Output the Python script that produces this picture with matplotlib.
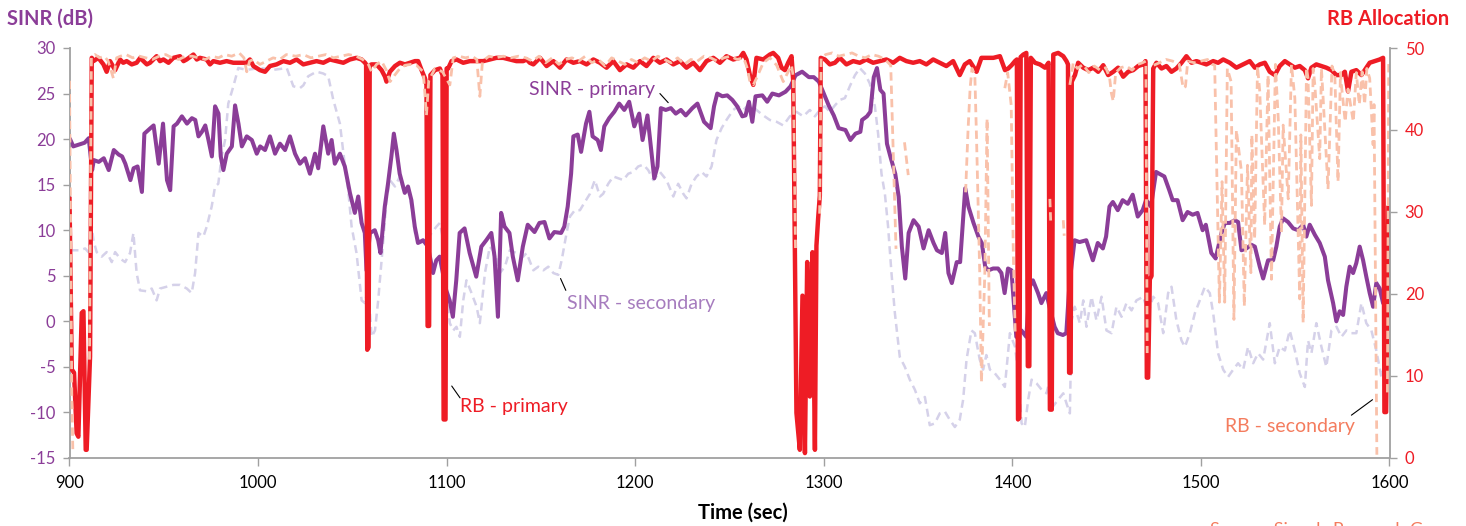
import numpy as np
import matplotlib.pyplot as plt

plt.rcParams['font.family'] = ['Lato', 'DejaVu Sans']
plt.rcParams['axes.unicode_minus'] = False

GAP = (np.nan, np.nan)

# SINR of the primary carrier, (time in sec, dB)
sinr_primary = [
    (900.5, 19.9), (902.0, 19.2), (905.0, 19.4), (908.0, 19.6), (910.2, 20.1),
    (912.0, 16.6), (912.9, 17.7), (915.5, 17.5), (918.2, 17.9), (920.8, 16.6),
    (923.5, 18.8), (926.1, 18.3), (927.9, 18.1), (929.6, 17.3), (932.3, 15.5),
    (934.0, 16.8), (936.1, 17.0), (938.4, 14.2), (939.7, 20.6), (942.9, 21.2),
    (944.6, 21.5), (947.3, 17.3), (949.6, 21.7), (951.7, 15.5), (953.4, 14.4),
    (955.2, 21.4), (957.0, 21.7), (959.6, 22.5), (962.3, 21.7), (964.9, 22.3),
    (966.7, 22.1), (968.4, 20.3), (970.2, 20.8), (972.0, 21.5), (973.7, 19.9),
    (975.5, 18.1), (977.2, 23.6), (979.0, 22.8), (980.2, 18.1), (981.6, 16.6),
    (983.4, 18.4), (986.1, 19.2), (987.8, 23.7), (989.6, 21.7), (991.4, 19.2),
    (994.0, 20.3), (996.7, 19.9), (999.3, 18.4), (1001.1, 19.2), (1003.7, 18.8),
    (1006.3, 20.3), (1009.0, 18.4), (1011.6, 19.5), (1014.3, 18.8), (1016.9, 20.3),
    (1019.6, 18.4), (1022.2, 17.3), (1024.9, 17.9), (1027.5, 16.2), (1030.2, 18.4),
    (1031.9, 16.8), (1034.6, 21.4), (1037.2, 18.4), (1039.0, 19.9), (1040.7, 17.3),
    (1043.4, 18.4), (1046.0, 17.0), (1048.7, 14.1), (1051.3, 11.9), (1053.1, 13.7),
    (1054.9, 10.8), (1056.6, 9.7), (1057.5, 5.6), (1059.3, 9.7), (1061.9, 10.0),
    (1063.7, 8.9), (1064.9, 7.5), (1067.2, 12.6), (1068.9, 15.1), (1070.7, 18.1),
    (1072.0, 20.6), (1073.4, 18.8), (1075.1, 16.2), (1077.8, 14.1), (1079.5, 14.8),
    (1081.3, 13.3), (1083.1, 10.4), (1084.8, 8.6), (1087.5, 8.9), (1090.1, 8.2),
    (1092.8, 5.3), (1094.5, 6.7), (1096.3, 7.1), (1098.0, 5.3), (1099.8, 3.4),
    (1101.6, 2.3), (1103.3, 0.5), (1105.1, 4.5), (1106.9, 9.7), (1109.5, 10.2),
    (1112.2, 7.5), (1115.7, 4.9), (1118.4, 8.2), (1121.0, 8.9), (1123.7, 9.7),
    (1125.4, 7.1), (1127.2, 0.5), (1128.9, 11.9), (1130.7, 10.4), (1133.3, 9.7),
    (1135.1, 7.1), (1137.7, 4.5), (1140.4, 8.2), (1143.0, 10.6), (1146.6, 9.8),
    (1149.2, 10.8), (1151.9, 10.9), (1154.5, 9.1), (1157.1, 9.8), (1160.7, 9.7),
    (1162.4, 10.4), (1164.2, 12.6), (1166.0, 16.2), (1167.2, 20.3), (1169.5, 20.5),
    (1171.3, 18.6), (1173.9, 21.7), (1175.7, 23.0), (1177.4, 20.3), (1180.1, 19.9),
    (1181.8, 18.8), (1183.6, 21.4), (1186.2, 22.3), (1188.9, 23.0), (1191.5, 23.9),
    (1194.2, 23.2), (1196.8, 24.1), (1199.5, 21.4), (1202.1, 22.8), (1203.9, 19.9),
    (1206.5, 22.6), (1208.3, 19.2), (1210.1, 15.7), (1211.8, 17.0), (1213.6, 23.4),
    (1216.2, 23.2), (1218.9, 23.4), (1221.5, 22.8), (1224.2, 23.2), (1226.8, 22.6),
    (1230.3, 23.4), (1233.0, 23.9), (1236.5, 21.9), (1240.0, 21.2), (1241.8, 23.6),
    (1243.5, 25.0), (1246.2, 24.7), (1248.8, 24.8), (1251.5, 24.3), (1254.1, 23.6),
    (1256.8, 22.5), (1258.5, 22.6), (1260.3, 24.1), (1262.1, 21.9), (1263.8, 24.7),
    (1267.4, 24.8), (1270.0, 24.1), (1272.7, 25.0), (1276.2, 24.8), (1279.7, 25.2),
    (1282.4, 25.8), (1285.0, 27.0), (1288.5, 27.4), (1292.1, 26.8), (1294.7, 26.8),
    (1297.4, 26.3), (1300.0, 25.0), (1302.6, 23.7), (1305.3, 22.6), (1307.9, 21.2),
    (1311.5, 21.0), (1314.1, 19.9), (1316.8, 20.6), (1319.4, 20.8), (1320.3, 22.1),
    (1322.9, 22.5), (1324.7, 23.0), (1326.5, 26.8), (1328.2, 27.8), (1330.0, 25.4),
    (1331.7, 25.0), (1333.5, 19.5), (1335.3, 18.1), (1337.9, 16.2), (1339.7, 13.7),
    (1341.4, 8.2), (1343.2, 4.7), (1345.0, 9.7), (1347.6, 11.1), (1350.3, 10.4),
    (1352.9, 8.0), (1355.6, 10.0), (1358.2, 8.6), (1360.0, 7.8), (1362.6, 7.5),
    (1364.4, 9.7), (1366.1, 5.3), (1367.9, 4.2), (1370.5, 6.5), (1372.3, 6.5),
    (1375.0, 14.6), (1376.7, 12.6), (1379.4, 10.8), (1382.0, 9.3), (1383.8, 8.6),
    (1385.6, 6.0), (1387.3, 5.6), (1389.8, 5.8), (1392.4, 5.8), (1394.2, 5.3),
    (1395.9, 3.1), (1397.7, 5.8), (1399.5, 5.6), (1402.1, -1.7), (1404.8, -1.0),
    (1407.4, -1.7), (1409.2, 3.8), (1410.9, 4.5), (1413.6, 3.1), (1415.4, 2.0),
    (1418.0, 3.1), (1419.7, 1.6), (1422.4, -0.6), (1424.1, -1.3), (1426.8, -1.5),
    (1428.6, -1.3), (1430.3, 4.2), (1433.0, 8.9), (1435.6, 8.7), (1439.2, 8.9),
    (1442.7, 6.7), (1445.3, 8.6), (1448.0, 8.0), (1449.7, 9.3), (1451.5, 12.6),
    (1453.3, 13.1), (1455.9, 12.2), (1458.5, 13.3), (1461.2, 12.9), (1463.8, 13.9),
    (1466.5, 11.5), (1469.1, 12.2), (1470.9, 13.3), (1473.5, 12.6), (1476.2, 16.4),
    (1477.9, 16.2), (1480.6, 15.9), (1483.2, 14.4), (1485.0, 13.3), (1487.6, 13.3),
    (1490.3, 11.1), (1492.9, 12.0), (1495.6, 11.7), (1498.2, 11.9), (1500.9, 10.0),
    (1502.6, 10.6), (1505.5, 7.5), (1507.8, 6.9), (1510.9, 9.7), (1512.7, 10.8),
    (1515.3, 10.8), (1518.0, 11.1), (1519.7, 10.9), (1521.5, 7.8), (1524.1, 8.0),
    (1526.8, 8.4), (1528.6, 8.2), (1531.2, 6.0), (1533.0, 4.7), (1535.6, 6.7),
    (1538.3, 6.7), (1540.0, 8.2), (1541.8, 10.4), (1543.6, 11.3), (1546.2, 10.9),
    (1548.9, 10.2), (1551.5, 10.0), (1554.2, 10.6), (1555.9, 9.3), (1557.7, 10.6),
    (1560.4, 9.5), (1563.0, 8.6), (1565.7, 7.1), (1567.4, 4.5), (1570.1, 2.0),
    (1571.8, 0.0), (1573.6, 1.1), (1575.4, 0.7), (1577.1, 3.8), (1578.9, 6.0),
    (1580.7, 5.3), (1582.4, 6.4), (1584.2, 8.2), (1586.0, 6.7), (1587.7, 4.9),
    (1589.5, 3.1), (1591.3, 1.6), (1593.0, 4.2), (1594.8, 3.6), (1596.6, 2.0),
    (1598.3, 4.2), (1600.0, 3.6),
]

# SINR of the secondary carrier, (time in sec, dB)
sinr_secondary = [
    (900.5, 7.8), (905.6, 7.8), (908.3, 8.0), (910.0, 7.6), (911.8, 10.4),
    (912.7, 8.9), (914.4, 7.6), (917.1, 7.1), (919.7, 7.6), (922.4, 6.5),
    (924.2, 7.6), (926.8, 6.9), (929.5, 6.5), (932.1, 7.5), (933.9, 9.7),
    (935.6, 5.3), (937.4, 3.4), (941.0, 3.3), (943.6, 3.6), (946.2, 2.3),
    (948.0, 3.6), (951.6, 3.8), (955.1, 4.0), (958.6, 4.0), (962.2, 3.6),
    (964.8, 3.1), (966.6, 5.3), (968.4, 9.7), (971.0, 9.3), (972.8, 10.4),
    (975.4, 12.6), (977.2, 14.8), (978.9, 15.1), (980.7, 18.1), (982.5, 19.9),
    (984.2, 23.9), (986.9, 25.8), (989.5, 27.8), (994.0, 27.6), (1001.0, 27.8),
    (1008.1, 27.6), (1015.2, 27.8), (1018.7, 25.8), (1022.2, 25.6), (1024.0, 25.9),
    (1026.6, 26.9), (1031.0, 27.4), (1034.6, 27.2), (1037.2, 26.9), (1039.9, 24.3),
    (1043.4, 21.7), (1046.1, 17.0), (1047.8, 14.4), (1049.6, 10.4), (1052.2, 7.5),
    (1054.9, 2.3), (1056.7, 2.0), (1058.4, 3.8), (1060.2, -1.7), (1062.0, -1.0),
    (1063.7, 2.3), (1066.4, 8.9), (1068.1, 13.3), (1069.9, 15.5), (1072.6, 14.8),
    (1075.2, 15.9), (1077.0, 14.4), (1078.7, 14.8), (1080.5, 13.7), (1083.2, 9.7),
    (1085.8, 8.6), (1089.3, 8.9), (1092.0, 9.7), (1094.6, 10.4), (1096.4, 10.8),
    (1098.2, 8.9), (1099.9, 3.1), (1101.7, -0.2), (1103.5, -1.0), (1105.2, -0.6),
    (1107.0, -1.7), (1108.8, 2.3), (1110.5, 4.5), (1113.2, 3.1), (1115.9, 1.6),
    (1117.6, -0.2), (1120.3, 5.3), (1122.9, 8.2), (1125.6, 7.5), (1128.2, 5.3),
    (1130.9, 6.0), (1133.5, 7.8), (1137.0, 7.5), (1140.6, 7.1), (1142.4, 7.5),
    (1146.0, 5.6), (1148.6, 6.0), (1151.3, 5.6), (1153.9, 6.0), (1156.6, 5.3),
    (1159.2, 5.1), (1161.0, 6.7), (1163.6, 9.7), (1165.4, 11.5), (1168.0, 12.2),
    (1170.7, 12.2), (1173.3, 13.1), (1176.0, 14.0), (1178.6, 15.5), (1181.3, 13.7),
    (1183.0, 14.0), (1185.7, 15.1), (1188.4, 15.9), (1191.0, 15.7), (1193.7, 15.5),
    (1196.3, 16.2), (1199.0, 16.4), (1201.6, 17.0), (1204.3, 17.2), (1206.9, 16.6),
    (1209.6, 15.5), (1213.1, 16.4), (1216.6, 15.5), (1220.2, 13.7), (1222.8, 15.1),
    (1225.5, 14.0), (1227.2, 13.5), (1229.9, 15.1), (1232.5, 15.9), (1235.2, 16.4),
    (1237.8, 15.9), (1240.5, 17.0), (1243.1, 19.9), (1245.8, 21.2), (1248.4, 22.1),
    (1252.0, 23.2), (1254.6, 23.6), (1257.3, 23.2), (1259.9, 23.7), (1262.6, 23.6),
    (1264.3, 23.2), (1267.9, 22.6), (1271.4, 22.1), (1275.0, 21.9), (1278.5, 21.5),
    (1282.0, 22.5), (1285.5, 23.0), (1289.1, 22.5), (1292.6, 23.2), (1295.3, 22.5),
    (1297.9, 23.2), (1300.6, 23.6), (1303.2, 23.0), (1305.9, 23.7), (1308.5, 24.3),
    (1311.2, 24.5), (1313.8, 25.8), (1316.5, 27.0), (1319.1, 27.8), (1321.8, 27.2),
    (1324.4, 26.1), (1327.1, 23.6), (1328.8, 20.6), (1330.6, 16.2), (1332.4, 14.0),
    (1334.1, 10.4), (1335.9, 5.3), (1337.7, 0.9), (1340.3, -3.9), (1343.0, -5.0),
    (1345.6, -6.4), (1348.3, -7.5), (1350.9, -9.0), (1353.6, -8.3), (1356.2, -11.4),
    (1358.9, -11.2), (1361.5, -10.1), (1364.2, -9.9), (1366.8, -10.8), (1369.5, -11.6),
    (1372.1, -10.8), (1373.9, -8.6), (1375.7, -4.2), (1378.3, -1.0), (1380.1, -1.3),
    (1382.7, -4.2), (1384.5, -5.3), (1386.2, -3.7), (1388.1, -5.3), (1390.7, -5.7),
    (1393.4, -6.4), (1396.0, -7.2), (1398.7, -1.3), (1401.4, -2.8), (1403.1, -5.7),
    (1404.9, -11.2), (1406.6, -11.6), (1408.4, -8.6), (1410.2, -6.4), (1412.8, -6.8),
    (1415.5, -7.5), (1418.1, -7.9), (1419.9, -6.4), (1421.7, -9.3), (1424.3, -8.6),
    (1427.0, -7.9), (1428.7, -9.0), (1430.5, -10.1), (1431.4, 0.1), (1433.1, 1.6),
    (1435.8, -0.2), (1437.6, 2.3), (1439.3, -0.6), (1442.0, 2.7), (1444.6, 0.1),
    (1447.3, 2.7), (1449.9, -1.0), (1452.6, -1.3), (1455.2, 1.6), (1457.9, 0.5),
    (1460.5, 2.0), (1463.2, 1.2), (1465.8, 2.3), (1469.4, 2.7), (1472.0, 0.9),
    (1474.7, 2.7), (1477.3, 2.0), (1480.0, -1.3), (1482.6, 3.1), (1484.4, 3.8),
    (1487.0, 0.1), (1489.7, -2.1), (1491.5, -2.8), (1494.1, -1.3), (1496.8, 0.9),
    (1499.4, 2.3), (1502.1, 3.8), (1504.7, 3.1), (1506.5, 0.9), (1509.1, -3.5),
    (1511.8, -5.3), (1514.4, -6.1), (1517.1, -5.3), (1519.7, -4.6), (1522.4, -5.3),
    (1525.0, -2.8), (1527.7, -4.6), (1530.3, -3.5), (1533.0, -4.2), (1536.5, -0.2),
    (1539.2, -4.6), (1541.8, -2.8), (1544.5, -3.2), (1547.1, -1.0), (1549.8, -3.2),
    (1552.4, -5.7), (1555.1, -7.2), (1556.8, -2.1), (1558.6, -3.5), (1561.2, -0.2),
    (1563.9, -2.8), (1566.5, -5.0), (1569.2, -1.0), (1571.9, -0.6), (1574.5, -1.7),
    (1577.1, -1.0), (1579.8, -1.3), (1582.4, -1.3), (1585.1, 2.0), (1587.7, -0.2),
    (1590.4, -1.0), (1593.0, -3.2), (1595.7, -6.1), (1598.3, -4.2),
]

# resource blocks allocated on the primary carrier, (time in sec, RBs)
rb_primary = [
    (900.0, 31.6), (901.2, 10.8), (902.4, 10.4), (903.8, 3.0), (904.7, 2.6),
    (906.5, 17.7), (907.4, 17.9), (908.6, 1.0), (909.1, 1.0), (910.9, 12.4),
    (911.8, 48.8), (912.7, 48.4), (915.3, 48.8), (918.0, 48.0), (919.7, 47.1),
    (921.5, 48.4), (924.2, 47.3), (926.8, 48.6), (928.5, 48.2), (930.3, 48.4),
    (933.0, 48.0), (935.6, 48.2), (937.5, 48.8), (939.2, 48.4), (941.0, 48.0),
    (942.7, 48.2), (946.2, 49.0), (948.0, 48.4), (949.8, 48.6), (952.5, 48.2),
    (955.1, 48.8), (958.6, 49.0), (960.5, 48.4), (962.1, 48.6), (965.7, 49.2),
    (967.5, 48.6), (969.2, 48.8), (972.7, 48.6), (974.5, 48.0), (976.3, 48.4),
    (979.8, 48.2), (983.3, 48.4), (986.9, 48.2), (990.4, 48.2), (993.9, 48.2),
    (995.7, 48.6), (997.5, 47.8), (1001.0, 47.3), (1003.7, 47.1), (1006.3, 47.8),
    (1009.8, 48.0), (1013.4, 48.4), (1016.9, 48.2), (1020.4, 48.6), (1024.0, 48.0),
    (1027.5, 48.2), (1031.0, 48.4), (1034.6, 48.2), (1038.1, 48.6), (1041.6, 48.4),
    (1045.2, 48.2), (1048.7, 48.6), (1052.2, 48.8), (1054.9, 48.6), (1056.7, 48.2),
    (1057.3, 48.0), (1057.9, 13.2), (1058.6, 13.5), (1059.2, 47.9),
    (1060.2, 48.0), (1062.8, 48.0), (1065.5, 47.3), (1067.3, 46.5), (1068.1, 45.9),
    (1069.9, 47.1), (1072.6, 47.8), (1075.2, 48.2), (1077.9, 48.0), (1080.5, 48.2),
    (1083.2, 48.4), (1084.9, 48.4), (1086.7, 47.3), (1088.5, 46.3), (1089.3, 45.5),
    (1089.9, 16.1), (1090.7, 16.1), (1091.4, 46.7),
    (1093.8, 47.3), (1096.4, 47.5), (1097.8, 46.7),
    (1098.4, 4.7), (1099.4, 4.7), (1100.0, 47.5),
    (1100.8, 47.5), (1102.6, 48.4), (1105.2, 48.6), (1108.8, 48.2), (1112.3, 48.4),
    (1115.8, 48.4), (1119.4, 48.4), (1122.9, 48.6), (1126.4, 48.8), (1130.0, 48.8),
    (1133.5, 48.6), (1137.0, 48.4), (1140.6, 48.4), (1142.4, 48.6), (1144.1, 48.2),
    (1146.0, 48.0), (1149.5, 48.8), (1153.0, 47.8), (1156.6, 48.4), (1160.1, 47.6),
    (1163.6, 48.6), (1167.2, 48.2), (1170.7, 48.4), (1174.2, 48.0), (1177.8, 48.6),
    (1181.3, 48.2), (1184.8, 47.6), (1188.4, 48.4), (1191.9, 47.3), (1195.4, 48.0),
    (1199.0, 47.6), (1202.5, 48.4), (1206.0, 47.8), (1209.6, 48.8), (1213.1, 48.2),
    (1216.6, 48.6), (1220.2, 48.0), (1223.7, 48.4), (1227.2, 47.6), (1230.8, 48.2),
    (1234.3, 47.3), (1237.8, 48.4), (1241.4, 48.8), (1244.9, 48.2), (1248.4, 49.0),
    (1252.0, 48.6), (1255.5, 48.8), (1257.3, 49.4), (1259.0, 48.6), (1260.8, 46.7),
    (1262.6, 45.5), (1264.3, 48.8), (1267.9, 48.6), (1271.4, 49.2), (1273.2, 49.4),
    (1275.8, 48.8), (1277.6, 47.6), (1279.4, 47.3), (1281.1, 48.2), (1282.9, 49.0),
    (1283.8, 45.9), (1285.5, 5.5), (1287.3, 1.0), (1288.7, 19.8), (1290.0, 0.6),
    (1291.2, 23.9), (1292.6, 7.5), (1294.0, 25.1), (1295.3, 1.0), (1296.1, 25.9),
    (1297.0, 29.2), (1297.9, 32.0), (1298.4, 48.8),
    (1300.6, 48.6), (1303.2, 48.0), (1305.9, 48.2), (1308.5, 48.8), (1312.0, 48.0),
    (1315.6, 48.4), (1319.1, 48.2), (1322.6, 48.6), (1326.2, 48.2), (1329.7, 48.4),
    (1333.2, 48.6), (1336.8, 48.2), (1340.3, 48.8), (1343.8, 48.4), (1347.4, 48.2),
    (1350.9, 48.4), (1354.4, 48.0), (1358.0, 48.6), (1361.5, 48.2), (1365.0, 47.8),
    (1368.6, 48.4), (1372.1, 46.7), (1374.8, 48.0), (1377.4, 48.4), (1381.0, 47.1),
    (1383.6, 48.8), (1387.1, 48.8), (1389.9, 48.8), (1393.4, 49.0), (1396.1, 47.3),
    (1397.8, 47.5), (1399.6, 47.9), (1401.4, 48.4), (1402.4, 48.6),
    (1403.0, 4.7), (1403.7, 4.9), (1404.4, 48.9), (1405.8, 49.2), (1407.4, 49.4),
    (1408.2, 11.2), (1409.0, 11.2), (1409.8, 48.8),
    (1412.0, 48.2), (1414.6, 48.0), (1417.3, 47.6), (1419.2, 48.2),
    (1419.9, 5.9), (1420.9, 5.9), (1421.7, 49.2),
    (1424.3, 49.4), (1427.0, 49.0), (1428.7, 48.4), (1429.5, 48.0),
    (1430.1, 10.4), (1430.9, 10.4), (1431.5, 45.9),
    (1433.2, 46.7), (1434.9, 48.2), (1437.6, 47.6), (1440.2, 47.3), (1442.9, 47.6),
    (1445.5, 47.1), (1448.2, 47.9), (1450.8, 46.7), (1453.5, 47.1), (1456.1, 47.6),
    (1458.8, 46.5), (1461.4, 47.1), (1464.1, 47.3), (1466.7, 47.8), (1469.4, 48.0),
    (1470.6, 48.4), (1471.3, 9.8), (1472.0, 9.8), (1472.9, 21.8), (1473.8, 22.2),
    (1474.7, 47.5), (1476.4, 48.2), (1479.1, 47.5), (1481.7, 47.8), (1484.4, 47.1),
    (1487.0, 47.5), (1489.7, 48.2), (1492.3, 49.0), (1495.0, 48.2), (1497.6, 48.4),
    (1500.3, 48.2), (1502.9, 48.0), (1506.5, 48.4), (1509.1, 48.2), (1511.8, 48.6),
    (1515.3, 48.2), (1518.8, 47.6), (1522.4, 48.0), (1525.9, 48.4), (1528.6, 47.6),
    (1531.2, 48.0), (1533.9, 48.2), (1536.5, 47.1), (1539.2, 46.7), (1541.8, 47.8),
    (1544.5, 48.4), (1547.1, 48.0), (1549.8, 47.6), (1552.4, 47.8), (1555.1, 47.3),
    (1556.8, 46.3), (1558.6, 47.6), (1561.2, 48.0), (1563.9, 47.8), (1566.5, 47.6),
    (1569.2, 47.3), (1571.8, 46.7), (1574.5, 46.7), (1576.3, 47.1), (1578.0, 44.7),
    (1579.8, 47.1), (1582.4, 47.3), (1585.1, 46.7), (1587.7, 47.6), (1589.5, 48.2),
    (1592.2, 48.4), (1594.8, 48.6), (1596.6, 48.8), (1597.3, 5.6), (1598.2, 5.6),
    (1599.4, 30.5),
]

# resource blocks allocated on the secondary carrier, (time in sec, RBs)
rb_secondary = [
    (900.0, 46.0), (900.6, 28.0), (901.2, 8.0), (901.8, 0.5), GAP,
    (910.6, 12.0), (911.6, 48.9), (913.5, 49.2), (916.0, 48.8), (918.5, 49.0),
    (920.5, 48.4), (923.3, 46.3), (925.0, 48.8), (927.0, 49.0), (930.0, 49.2),
    (933.5, 48.8), (937.0, 49.0), (940.5, 48.8), (944.0, 48.6), (947.5, 49.0),
    (951.0, 49.2), (954.5, 48.8), (958.0, 48.6), (961.5, 49.0), (965.0, 49.0),
    (968.5, 48.8), (972.0, 48.6), (975.5, 49.0), (979.0, 48.8), (982.5, 49.2),
    (986.0, 49.0), (990.0, 49.4), (992.5, 48.8), (994.0, 47.1), (995.5, 48.4),
    (997.5, 48.6), (1001.0, 48.0), (1004.5, 48.4), (1008.0, 48.8), (1011.5, 48.6),
    (1015.0, 49.2), (1020.0, 49.0), (1024.0, 49.2), (1028.0, 48.8), (1032.0, 49.0),
    (1036.0, 49.2), (1040.0, 48.8), (1044.0, 49.0), (1048.0, 49.2), (1052.0, 49.0),
    (1055.5, 48.6), (1058.5, 48.0), (1060.2, 47.1), (1062.8, 48.0), (1065.5, 48.4),
    (1068.0, 47.3), (1070.0, 45.9), (1072.5, 46.7), (1075.2, 47.5), (1078.0, 47.9),
    (1081.0, 48.0), (1084.0, 47.9), (1087.6, 47.1), (1089.3, 41.8), (1090.5, 46.0),
    (1093.8, 47.5), (1097.8, 47.1), (1100.5, 46.0), (1101.7, 45.5), (1103.5, 48.8),
    (1106.5, 49.0), (1110.0, 48.8), (1113.5, 49.0), (1116.0, 48.6), (1117.6, 44.1),
    (1119.0, 48.4), (1122.5, 49.0), (1126.0, 48.8), (1130.0, 49.0), (1134.0, 48.8),
    (1138.0, 49.0), (1142.0, 48.8), (1145.5, 48.4), (1149.0, 49.0), (1152.5, 48.2),
    (1156.0, 48.8), (1159.5, 48.0), (1163.0, 48.6), (1166.5, 48.8), (1170.0, 48.4),
    (1173.5, 49.0), (1177.0, 48.2), (1180.5, 48.6), (1184.0, 47.8), (1187.5, 48.8),
    (1191.0, 48.4), (1194.5, 48.0), (1198.0, 48.6), (1201.5, 48.2), (1205.0, 48.8),
    (1208.5, 48.4), (1212.0, 49.0), (1215.5, 48.6), (1219.0, 48.2), (1222.5, 48.8),
    (1226.0, 48.0), (1229.5, 48.6), (1233.0, 48.4), (1236.5, 49.0), (1240.0, 48.8),
    (1243.5, 48.4), (1247.0, 48.8), (1250.5, 49.0), (1254.0, 48.6), (1257.5, 48.8),
    (1259.5, 47.5), (1260.8, 45.9), (1262.6, 45.5), (1264.3, 46.3), (1267.9, 48.2),
    (1271.4, 48.8), (1275.0, 47.9), (1278.5, 45.9), (1281.1, 47.1), (1282.9, 47.9),
    (1283.8, 46.5), (1285.0, 25.5), GAP,
    (1297.8, 29.8), (1298.6, 48.8), (1301.0, 49.2), (1304.5, 49.4), (1308.0, 49.0),
    (1311.5, 49.2), (1315.0, 49.4), (1318.5, 49.0), (1322.0, 48.8), (1325.5, 49.2),
    (1329.0, 49.0), (1332.5, 48.6), (1335.5, 47.9), (1336.5, 40.0), (1338.3, 25.5), GAP,
    (1342.8, 38.5), (1344.8, 34.5), GAP,
    (1375.2, 32.4), (1376.5, 40.0), (1377.6, 45.1), (1378.6, 47.5), (1380.1, 46.7),
    (1381.0, 39.0), (1382.7, 22.6), (1383.6, 9.2), (1385.4, 22.6), (1386.6, 41.4),
    (1387.8, 16.1), GAP,
    (1396.0, 45.1), (1397.5, 47.0), (1399.4, 43.0), (1400.5, 25.0), (1401.5, 15.3), GAP,
    (1419.9, 31.6), (1420.4, 28.4), GAP,
    (1427.0, 29.0), (1427.5, 27.1), GAP,
    (1430.5, 45.5), (1432.3, 48.2), (1434.5, 47.5), (1437.5, 48.0), (1440.5, 47.0),
    (1443.5, 47.8), (1446.5, 47.3), (1449.5, 47.6), (1451.5, 46.5), (1452.5, 44.5),
    (1453.5, 43.5), (1454.8, 47.0), (1457.5, 47.6), (1460.5, 47.8), (1463.5, 47.3),
    (1466.5, 48.0), (1469.0, 48.2), (1470.8, 48.4), (1471.5, 12.8), GAP,
    (1475.0, 47.9), (1478.0, 48.2), (1481.5, 48.6), (1485.0, 48.4), (1488.5, 48.0),
    (1490.6, 45.1), (1491.8, 45.3), (1493.0, 48.4), (1496.5, 48.2), (1500.0, 48.4),
    (1503.5, 48.6), (1506.0, 48.0), (1507.3, 47.9), (1507.8, 41.8), (1509.8, 19.0),
    (1511.2, 33.7), (1512.6, 19.0), (1514.0, 47.5), (1516.0, 45.9), (1517.5, 16.9),
    (1518.8, 40.0), (1521.5, 34.9), (1523.0, 18.5), (1524.7, 35.7), (1526.5, 22.6),
    (1527.0, 39.4), (1528.5, 26.7), (1530.0, 47.8), (1531.2, 44.7), (1533.8, 28.4),
    (1535.6, 46.7), (1537.4, 21.8), (1539.5, 48.0), (1541.0, 41.4), (1542.7, 27.5),
    (1543.6, 40.6), (1546.3, 31.6), (1548.0, 48.0), (1549.8, 43.9), (1552.4, 19.4),
    (1553.0, 39.4), (1554.2, 16.5), (1556.0, 47.6), (1556.8, 46.3), (1558.6, 30.8),
    (1559.5, 47.5), (1560.4, 45.5), (1563.0, 36.5), (1563.9, 47.5), (1564.8, 43.9),
    (1567.4, 32.8), (1569.5, 47.8), (1571.0, 46.7), (1572.7, 33.7), (1574.0, 47.0),
    (1574.5, 45.5), (1576.5, 41.0), (1578.0, 45.0), (1580.8, 41.0), (1582.4, 47.0),
    (1584.0, 43.1), (1585.5, 47.1), (1586.8, 43.1), (1588.0, 47.5), (1589.5, 46.3),
    (1591.3, 38.2), (1591.8, 43.1), (1593.3, 0.4), GAP,
    (1598.9, 8.0), (1599.6, 48.5),
]

sinr_ticks = list(range(-15, 31, 5))
rb_ticks = list(range(0, 51, 10))
time_ticks = list(range(900, 1601, 100))

PURPLE = '#8B3D98'
LAVENDER = '#D5D1E9'
RED = '#EE1C25'
SALMON = '#F9C1AA'
GREY = '#A0A0A0'

fig = plt.figure(figsize=(14.66, 5.26), dpi=100)
ax = fig.add_axes([69.5 / 1466, 1 - 458 / 526, 1320 / 1466, 410 / 526])
ax2 = ax.twinx()

t, v = np.array(sinr_secondary).T
ax.plot(t, v, color=LAVENDER, lw=1.8, dashes=(3.2, 2.0))
t, v = np.array(sinr_primary).T
ax.plot(t, v, color=PURPLE, lw=2.9, solid_joinstyle='round')

t, v = np.array(rb_primary).T
ax2.plot(t, v, color=RED, lw=3.2, solid_joinstyle='round')
t, v = np.array(rb_secondary).T
ax2.plot(t, v, color=SALMON, lw=2.0, dashes=(3.0, 1.8))

ax.set_xlim(900, 1600)
ax.set_ylim(-15, 30)
ax2.set_ylim(0, 50)
ax.set_xticks(time_ticks)
ax.set_yticks(sinr_ticks)
ax2.set_yticks(rb_ticks)

for a in (ax, ax2):
    a.spines['top'].set_visible(False)
    for s in a.spines.values():
        s.set_color(GREY)
        s.set_linewidth(1.3)
ax2.spines['left'].set_visible(False)
ax2.spines['bottom'].set_visible(False)
ax.spines['right'].set_visible(False)

ax.tick_params(axis='y', length=5, width=1, color=GREY, labelcolor=PURPLE,
               labelsize=12, pad=5)
ax.tick_params(axis='x', length=6, width=1, color=GREY, labelcolor='black',
               labelsize=12, pad=6)
ax2.tick_params(axis='y', length=5, width=1, color=GREY, labelcolor=RED,
                labelsize=12, pad=6)

# series labels with short leader lines
lead = dict(arrowstyle='-', color='black', lw=0.8, shrinkA=0, shrinkB=0)
ax.annotate('', xy=(1217.5, 24.0), xytext=(1213.1, 25.0), arrowprops=lead)
ax.text(1210.4, 25.4, 'SINR - primary', color=PURPLE, fontsize=14,
        ha='right', va='center')
ax.annotate('', xy=(1160.4, 4.7), xytext=(1163.2, 3.4), arrowprops=lead)
ax.text(1164.0, 2.0, 'SINR - secondary', color='#A67CBE', fontsize=14,
        ha='left', va='center')
ax.annotate('', xy=(1102.7, -7.1), xytext=(1107.1, -8.4), arrowprops=lead)
ax.text(1107.3, -9.4, 'RB - primary', color=RED, fontsize=14,
        ha='left', va='center')
ax.annotate('', xy=(1591.0, -8.6), xytext=(1579.8, -10.3), arrowprops=lead)
ax.text(1581.6, -11.5, 'RB - secondary', color='#F47C5E', fontsize=14,
        ha='right', va='center')

fig.text(7 / 1466, 1 - 19 / 526, 'SINR (dB)', color=PURPLE, fontsize=14.5,
         fontweight='bold', ha='left', va='center')
fig.text(1449 / 1466, 1 - 19 / 526, 'RB Allocation', color=RED, fontsize=14.5,
         fontweight='bold', ha='right', va='center')
fig.text(743 / 1466, 1 - 513 / 526, 'Time (sec)', color='black', fontsize=14.5,
         fontweight='bold', ha='center', va='center')
fig.text(1210 / 1466, 1 - 530 / 526, 'Source: Signals Research Group',
         color='#F47C5E', fontsize=13, ha='left', va='center')

fig.savefig('out.png', dpi=100)
